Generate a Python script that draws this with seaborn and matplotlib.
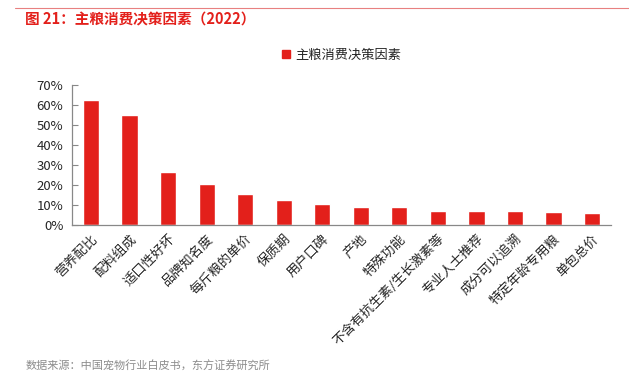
import matplotlib
matplotlib.use('Agg')
import matplotlib.pyplot as plt
import seaborn as sns
import pandas as pd
from matplotlib.ticker import FuncFormatter, FixedLocator
from matplotlib.patches import Patch

# data
factors = ['营养配比', '配料组成', '适口性好坏', '品牌知名度', '每斤粮的单价', '保质期', '用户口碑',
           '产地', '特殊功能', '不含有抗生素/生长激素等', '专业人士推荐', '成分可以追溯',
           '特定年龄专用粮', '单包总价']
shares = [62.3, 54.8, 26.8, 20.5, 15.8, 12.5, 10.5, 9.3, 9.0, 7.3, 7.3, 7.0, 6.5, 6.3]
series_name = '主粮消费决策因素'

df = pd.DataFrame({'factor': factors, 'share': [v / 100 for v in shares]})

sns.set_style('white')
plt.rcParams['font.family'] = ['Noto Sans CJK SC', 'DejaVu Sans']

red = '#E3201B'
fig = plt.figure(figsize=(6.29, 3.76), dpi=100)
ax = fig.add_axes([0.114, 0.401, 0.858, 0.373])

sns.barplot(data=df, x='factor', y='share', color=red, width=0.42, saturation=1, ax=ax)

ax.set_ylim(0, 0.7)
ax.set_xlim(-0.5, len(factors) - 0.5)
ax.set_yticks([i / 10 for i in range(8)])
ax.yaxis.set_major_formatter(FuncFormatter(lambda v, p: f'{v:.0%}'))
ax.set_xlabel('')
ax.set_ylabel('')

# tick marks at category boundaries, labels at centres
ax.xaxis.set_major_locator(FixedLocator([i - 0.5 for i in range(len(factors) + 1)]))
ax.xaxis.set_minor_locator(FixedLocator(list(range(len(factors)))))
ax.xaxis.set_major_formatter(FuncFormatter(lambda v, p: ''))
ax.set_xticks(list(range(len(factors))), factors, minor=True, rotation=45,
              ha='right', va='top', rotation_mode='anchor', fontsize=9.5)
ax.tick_params(axis='x', which='minor', length=0, pad=5)
ax.tick_params(axis='x', which='major', direction='in', length=4, color='#888888', width=0.8)
ax.tick_params(axis='y', direction='in', length=4, color='#888888', width=0.8,
               labelsize=9.5, pad=6, left=True)

for s in ['top', 'right']:
    ax.spines[s].set_visible(False)
for s in ['left', 'bottom']:
    ax.spines[s].set_color('#888888')
    ax.spines[s].set_linewidth(0.9)

ax.legend(handles=[Patch(color=red, label=series_name)], loc='lower center',
          bbox_to_anchor=(0.5, 1.08), frameon=False, fontsize=9.5,
          handlelength=0.6, handleheight=0.6, handletextpad=0.4)

# header and footer
fig.add_artist(plt.Line2D([0.024, 1.0], [0.979, 0.979], color='#E88080', lw=0.8))
fig.text(0.04, 0.948, '图 21：主粮消费决策因素（2022）', color=red, fontsize=10.5,
         fontweight='bold', va='center')
fig.text(0.04, 0.027, '数据来源：中国宠物行业白皮书，东方证券研究所', color='#8C8C8C',
         fontsize=8, va='center')

fig.savefig('out.png', dpi=100)
